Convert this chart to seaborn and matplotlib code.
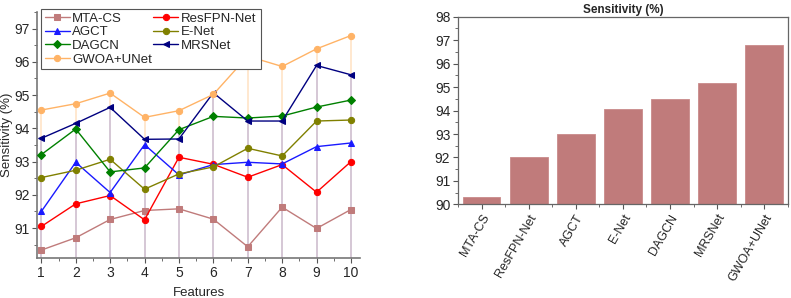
import numpy as np
import pandas as pd
import matplotlib
matplotlib.use("Agg")
import matplotlib.pyplot as plt
from matplotlib.ticker import MultipleLocator
import seaborn as sns

# DATOS
features = [1, 2, 3, 4, 5, 6, 7, 8, 9, 10]
mta_cs = [90.34, 90.71, 91.26, 91.53, 91.58, 91.27, 90.44, 91.63, 90.99, 91.56]
resfpn = [91.05, 91.73, 91.98, 91.25, 93.13, 92.92, 92.53, 92.91, 92.08, 93.00]
agct = [91.50, 92.98, 92.07, 93.51, 92.60, 92.91, 92.98, 92.93, 93.45, 93.56]
enet = [92.52, 92.74, 93.07, 92.17, 92.63, 92.84, 93.40, 93.17, 94.22, 94.25]
dagcn = [93.21, 93.98, 92.69, 92.81, 93.96, 94.36, 94.31, 94.37, 94.64, 94.85]
mrsnet = [93.70, 94.15, 94.63, 93.67, 93.68, 95.07, 94.22, 94.22, 95.89, 95.61]
gwoa = [94.55, 94.74, 95.06, 94.33, 94.53, 95.02, 96.17, 95.86, 96.39, 96.79]

models = ["MTA-CS", "ResFPN-Net", "AGCT", "E-Net", "DAGCN", "MRSNet", "GWOA+UNet"]
sens_bar = [90.30, 92.02, 93.00, 94.06, 94.49, 95.19, 96.78]

series = [
    ("MTA-CS", mta_cs, "#c07b7b", "s"),
    ("ResFPN-Net", resfpn, "#ff0000", "o"),
    ("AGCT", agct, "#1a1aff", "^"),
    ("E-Net", enet, "#808000", "o"),
    ("DAGCN", dagcn, "#008000", "D"),
    ("MRSNet", mrsnet, "#000080", "<"),
    ("GWOA+UNet", gwoa, "#ffb366", "o"),
]

sns.set_style("ticks")
plt.rcParams["font.family"] = ["Liberation Sans", "DejaVu Sans"]
plt.rcParams["font.size"] = 9

fig = plt.figure(figsize=(7.91, 2.98), dpi=100)
ax1 = fig.add_axes([0.047, 0.134, 0.408, 0.826])
ax2 = fig.add_axes([0.579, 0.314, 0.417, 0.630])

# GRAFICO DE LINEAS
ymin1 = 90.1
all_vals = np.array([s[1] for s in series])
top = all_vals.max(axis=0)
second = np.sort(all_vals, axis=0)[-2]
# lineas de caida (drop lines)
ax1.vlines(features, ymin1, second, color="#d2c3d2", lw=1.3, zorder=1)
ax1.vlines(features, second, top, color="#ffe6cc", lw=1.3, zorder=1)

handles = {}
for name, vals, col, mk in series:
    df = pd.DataFrame({"x": features, "y": vals})
    sns.lineplot(data=df, x="x", y="y", ax=ax1, color=col, marker=mk,
                 markersize=4.5, markeredgecolor=col, lw=1.0, label=name,
                 legend=False, zorder=3)
    handles[name] = ax1.lines[-1]

order = ["MTA-CS", "AGCT", "DAGCN", "GWOA+UNet", "ResFPN-Net", "E-Net", "MRSNet"]
leg = ax1.legend([handles[n] for n in order], order, ncol=2, loc="upper left",
                 bbox_to_anchor=(-0.01, 1.04), fontsize=9.5, frameon=True,
                 fancybox=False, edgecolor="#555555", framealpha=1,
                 handlelength=1.9, columnspacing=0.1, labelspacing=0.1,
                 borderpad=0.3, handletextpad=0.2)
leg.get_frame().set_linewidth(0.8)

ax1.set_xlim(0.88, 10.26)
ax1.set_ylim(ymin1, 97.5)
ax1.set_xticks(features)
ax1.set_yticks([91, 92, 93, 94, 95, 96, 97])
ax1.xaxis.set_minor_locator(MultipleLocator(0.5))
ax1.yaxis.set_minor_locator(MultipleLocator(0.5))
ax1.set_xlabel("Features", fontsize=9.5, labelpad=5)
ax1.set_ylabel("Sensitivity (%)", fontsize=9.5, labelpad=1)
sns.despine(ax=ax1)
for s in ["left", "bottom"]:
    ax1.spines[s].set_color("#777777")
    ax1.spines[s].set_linewidth(1.2)
ax1.tick_params(axis="both", which="major", length=3.5, width=0.8, color="#555555", labelsize=10, pad=2)
ax1.tick_params(axis="both", which="minor", length=2, width=0.6, color="#555555")

# GRAFICO DE BARRAS
bdf = pd.DataFrame({"model": models, "sens": sens_bar})
sns.barplot(data=bdf, x="model", y="sens", ax=ax2, color="#c07b7b",
            saturation=1, width=0.8, edgecolor="#c98a8a", linewidth=0.6)
ax2.set_ylim(90, 98)
ax2.set_xlim(-0.5, 6.5)
ax2.set_yticks(range(90, 99))
ax2.yaxis.set_minor_locator(MultipleLocator(0.5))
ax2.set_xticks(range(7), minor=False)
ax2.set_xticks(np.arange(-0.5, 7, 1), minor=True)
ax2.set_xticklabels(models, rotation=60, ha="right", rotation_mode="anchor", fontsize=9)
ax2.set_xlabel("")
ax2.set_ylabel("")
ax2.set_title("Sensitivity (%)", fontsize=8.5, fontweight="bold", pad=3)
for s in ax2.spines.values():
    s.set_color("#666666")
    s.set_linewidth(0.9)
ax2.tick_params(axis="both", which="major", length=3.5, width=0.8, color="#555555", labelsize=10, pad=2)
ax2.tick_params(axis="both", which="minor", length=2, width=0.6, color="#555555")
ax2.tick_params(axis="x", which="major", labelsize=9)

fig.savefig("out.png", dpi=100)
